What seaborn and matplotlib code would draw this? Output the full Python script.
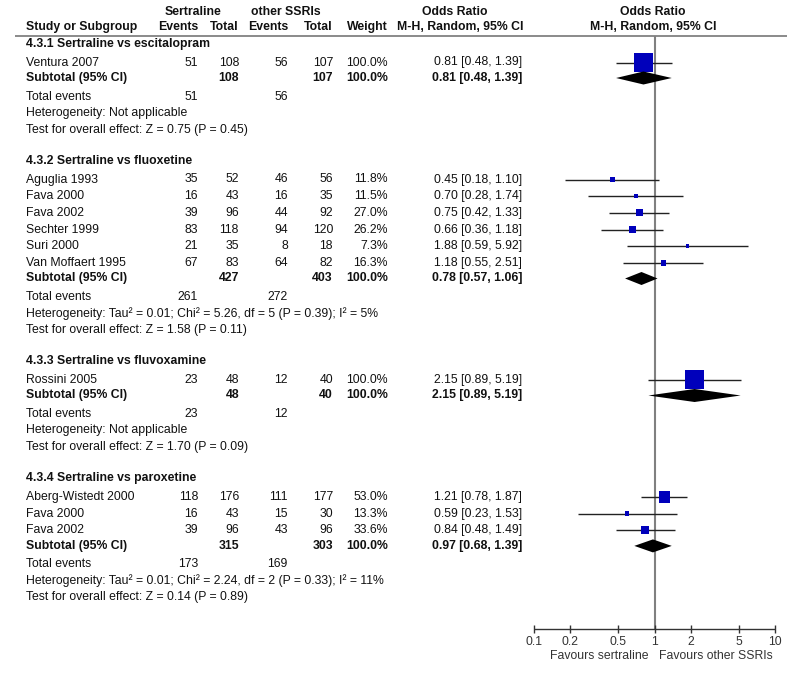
import matplotlib
matplotlib.use("Agg")
import matplotlib.pyplot as plt
import numpy as np
import pandas as pd
import seaborn as sns

sns.set_style("white")
plt.rcParams['font.family'] = ['Liberation Sans', 'DejaVu Sans']

# data
group_titles = ["4.3.1 Sertraline vs escitalopram", "4.3.2 Sertraline vs fluoxetine",
                "4.3.3 Sertraline vs fluvoxamine", "4.3.4 Sertraline vs paroxetine"]
study_group = [0, 1, 1, 1, 1, 1, 1, 2, 3, 3, 3]
study_names = ["Ventura 2007", "Aguglia 1993", "Fava 2000", "Fava 2002", "Sechter 1999", "Suri 2000",
               "Van Moffaert 1995", "Rossini 2005", "Aberg-Wistedt 2000", "Fava 2000", "Fava 2002"]
ev_sert = [51, 35, 16, 39, 83, 21, 67, 23, 118, 16, 39]
tot_sert = [108, 52, 43, 96, 118, 35, 83, 48, 176, 43, 96]
ev_other = [56, 46, 16, 44, 94, 8, 64, 12, 111, 15, 43]
tot_other = [107, 56, 35, 92, 120, 18, 82, 40, 177, 30, 96]
weight = [100.0, 11.8, 11.5, 27.0, 26.2, 7.3, 16.3, 100.0, 53.0, 13.3, 33.6]
odds = [0.81, 0.45, 0.70, 0.75, 0.66, 1.88, 1.18, 2.15, 1.21, 0.59, 0.84]
ci_low = [0.48, 0.18, 0.28, 0.42, 0.36, 0.59, 0.55, 0.89, 0.78, 0.23, 0.48]
ci_high = [1.39, 1.10, 1.74, 1.33, 1.18, 5.92, 2.51, 5.19, 1.87, 1.53, 1.49]

sub_tot_sert = [108, 427, 48, 315]
sub_tot_other = [107, 403, 40, 303]
sub_odds = [0.81, 0.78, 2.15, 0.97]
sub_low = [0.48, 0.57, 0.89, 0.68]
sub_high = [1.39, 1.06, 5.19, 1.39]
total_ev_sert = [51, 261, 23, 173]
total_ev_other = [56, 272, 12, 169]
heterogeneity = ["Heterogeneity: Not applicable",
                 "Heterogeneity: Tau\u00b2 = 0.01; Chi\u00b2 = 5.26, df = 5 (P = 0.39); I\u00b2 = 5%",
                 "Heterogeneity: Not applicable",
                 "Heterogeneity: Tau\u00b2 = 0.01; Chi\u00b2 = 2.24, df = 2 (P = 0.33); I\u00b2 = 11%"]
overall = ["Test for overall effect: Z = 0.75 (P = 0.45)", "Test for overall effect: Z = 1.58 (P = 0.11)",
           "Test for overall effect: Z = 1.70 (P = 0.09)", "Test for overall effect: Z = 0.14 (P = 0.89)"]
x_ticks = [0.1, 0.2, 0.5, 1, 2, 5, 10]
x_ticklabels = ["0.1", "0.2", "0.5", "1", "2", "5", "10"]

W, H = 800, 678
fig = plt.figure(figsize=(8, 6.78), dpi=100)
ax = fig.add_axes([0, 0, 1, 1])
ax.set_xlim(0, W)
ax.set_ylim(H, 0)
ax.axis('off')

# forest axes: 0.1 -> px 534, 10 -> px 775
fax = fig.add_axes([534 / W, 0, (775 - 534) / W, 1])
fax.set_xscale('log')
fax.patch.set_alpha(0)

FS = 8.8
TXT = '#111111'
kw = dict(fontsize=FS, color=TXT, va='center')
X_NAME, X_EV1, X_TOT1, X_EV2, X_TOT2, X_W, X_OR = 26, 198, 239, 288, 333, 388, 522

# header
ax.text(193, 12, "Sertraline", ha='center', fontweight='bold', **kw)
ax.text(286, 12, "other SSRIs", ha='center', fontweight='bold', **kw)
ax.text(455, 12, "Odds Ratio", ha='center', fontweight='bold', **kw)
ax.text(653, 12, "Odds Ratio", ha='center', fontweight='bold', **kw)
ax.text(X_NAME, 27, "Study or Subgroup", ha='left', fontweight='bold', **kw)
ax.text(X_EV1, 27, "Events", ha='right', fontweight='bold', **kw)
ax.text(X_TOT1, 27, "Total", ha='right', fontweight='bold', **kw)
ax.text(X_EV2, 27, "Events", ha='right', fontweight='bold', **kw)
ax.text(X_TOT2, 27, "Total", ha='right', fontweight='bold', **kw)
ax.text(X_W, 27, "Weight", ha='right', fontweight='bold', **kw)
ax.text(460, 27, "M-H, Random, 95% CI", ha='center', fontweight='bold', **kw)
ax.text(653, 27, "M-H, Random, 95% CI", ha='center', fontweight='bold', **kw)
ax.hlines(36, 15, 787, color='#777777', lw=1.2)

# row layout
study_y = []
sub_y = []
y = 44
for g, title in enumerate(group_titles):
    ax.text(X_NAME, y, title, ha='left', fontweight='bold', **kw)
    idx = [i for i, s in enumerate(study_group) if s == g]
    y += 18.5
    for k, i in enumerate(idx):
        if k > 0:
            y += 16.7
        study_y.append(y)
        ax.text(X_NAME, y, study_names[i], ha='left', **kw)
        ax.text(X_EV1, y, str(ev_sert[i]), ha='right', **kw)
        ax.text(X_TOT1, y, str(tot_sert[i]), ha='right', **kw)
        ax.text(X_EV2, y, str(ev_other[i]), ha='right', **kw)
        ax.text(X_TOT2, y, str(tot_other[i]), ha='right', **kw)
        ax.text(X_W, y, f"{weight[i]:.1f}%", ha='right', **kw)
        ax.text(X_OR, y, f"{odds[i]:.2f} [{ci_low[i]:.2f}, {ci_high[i]:.2f}]", ha='right', **kw)
    y += 15.5
    sub_y.append(y)
    ax.text(X_NAME, y, "Subtotal (95% CI)", ha='left', fontweight='bold', **kw)
    ax.text(X_TOT1, y, str(sub_tot_sert[g]), ha='right', fontweight='bold', **kw)
    ax.text(X_TOT2, y, str(sub_tot_other[g]), ha='right', fontweight='bold', **kw)
    ax.text(X_W, y, "100.0%", ha='right', fontweight='bold', **kw)
    ax.text(X_OR, y, f"{sub_odds[g]:.2f} [{sub_low[g]:.2f}, {sub_high[g]:.2f}]", ha='right',
            fontweight='bold', **kw)
    y += 18.5
    ax.text(X_NAME, y, "Total events", ha='left', **kw)
    ax.text(X_EV1, y, str(total_ev_sert[g]), ha='right', **kw)
    ax.text(X_EV2, y, str(total_ev_other[g]), ha='right', **kw)
    y += 16.5
    ax.text(X_NAME, y, heterogeneity[g], ha='left', **kw)
    y += 16.5
    ax.text(X_NAME, y, overall[g], ha='left', **kw)
    y += 31.5

# forest: line of no effect
AXIS_Y = 629
fax.vlines(1, 36, AXIS_Y, color='#808080', lw=1.5, zorder=1)

# CI lines
fax.hlines(study_y, ci_low, ci_high, color='#222222', lw=1, zorder=2)

# weight squares (side in px grows with weight)
side_px = 2.5 + 16.5 * np.array(weight) / 100
area = (side_px * 0.72) ** 2
df = pd.DataFrame({"odds": odds, "y": study_y, "area": area})
sns.scatterplot(data=df, x="odds", y="y", size="area", sizes=(area.min(), area.max()),
                size_norm=(area.min(), area.max()), marker='s', color='#0000BB',
                linewidth=0, legend=False, ax=fax, zorder=3)

# subtotal diamonds
for g in range(len(group_titles)):
    yc = sub_y[g]
    fax.fill([sub_low[g], sub_odds[g], sub_high[g], sub_odds[g]],
             [yc, yc - 6.5, yc, yc + 6.5], color='black', lw=0, zorder=4)

# x axis
fax.hlines(AXIS_Y, 0.1, 10, color='#333333', lw=1, clip_on=False)
fax.vlines(x_ticks, AXIS_Y - 4, AXIS_Y + 4, color='#333333', lw=1, clip_on=False)
for t, lab in zip(x_ticks, x_ticklabels):
    fax.text(t, 642, lab, ha='center', va='center', fontsize=FS, color='#333333')
ax.text(648, 656, "Favours sertraline", ha='right', va='center', fontsize=FS, color='#333333')
ax.text(659, 656, "Favours other SSRIs", ha='left', va='center', fontsize=FS, color='#333333')

fax.set_xlim(0.1, 10)
fax.set_ylim(H, 0)
fax.axis('off')

fig.savefig("out.png", dpi=100, facecolor='white')
